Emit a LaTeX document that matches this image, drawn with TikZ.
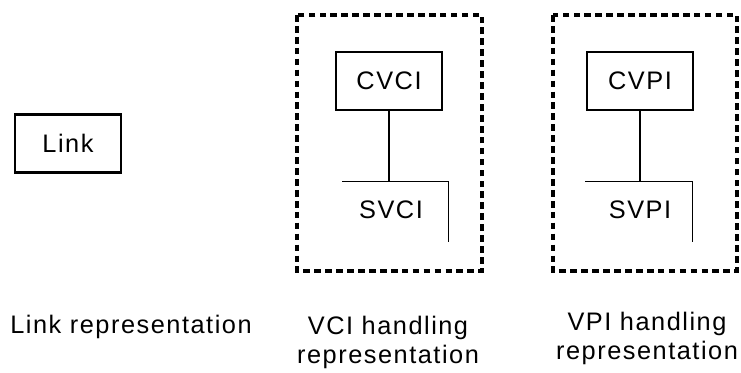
\documentclass[tikz,border=0pt]{standalone}
\usepackage{fontspec}
\setmainfont{Liberation Sans}[LetterSpace=6]
\begin{document}
\begin{tikzpicture}[x=0.75pt,y=-0.75pt,
  solidbox/.style={draw,line width=1.6pt,minimum width=80pt,minimum height=43.5pt,inner sep=0pt},
  grp/.style={draw,line width=2.4pt,dash pattern=on 5pt off 3.2pt},
  thin/.style={line width=0.7pt},
  conn/.style={line width=1.6pt},
  lbl/.style={font=\fontsize{19}{22}\selectfont,inner sep=0pt,anchor=base},
  txt/.style={font=\fontsize{19}{22}\selectfont}]
\useasboundingbox (0,0) rectangle (741,372);
% group frames
\draw[grp] (297,15) rectangle (482,271);
\draw[grp] (553,15) rectangle (737,271);
% link
\node[solidbox,txt] (link) at (68,143.5) {Link};
% VCI
\node[solidbox,txt] (cvci) at (389,81) {CVCI};
\coordinate (sv1a) at (342,181);
\coordinate (sv1b) at (448,181);
\coordinate (sv1c) at (448,242);
\draw[thin] (sv1a) -- (sv1b) -- (sv1c);
\draw[conn] (cvci.south) -- (cvci.south |- sv1a);
\node[lbl] (svci) at (391,218) {SVCI};
% VPI
\node[solidbox,txt] (cvpi) at (640,81) {CVPI};
\coordinate (sv2a) at (585,181);
\coordinate (sv2b) at (692,181);
\coordinate (sv2c) at (692,242);
\draw[thin] (sv2a) -- (sv2b) -- (sv2c);
\draw[conn] (cvpi.south) -- (cvpi.south |- sv2a);
\node[lbl] (svpi) at (640,218) {SVPI};
% labels
\node[lbl] (l1) at (131,333) {Link representation};
\node[lbl] (l2a) at (388,334) {VCI handling};
\node[lbl] (l2b) at (388,363) {representation};
\node[lbl] (l3a) at (647,330) {VPI handling};
\node[lbl] (l3b) at (647,359) {representation};
\end{tikzpicture}
\end{document}
